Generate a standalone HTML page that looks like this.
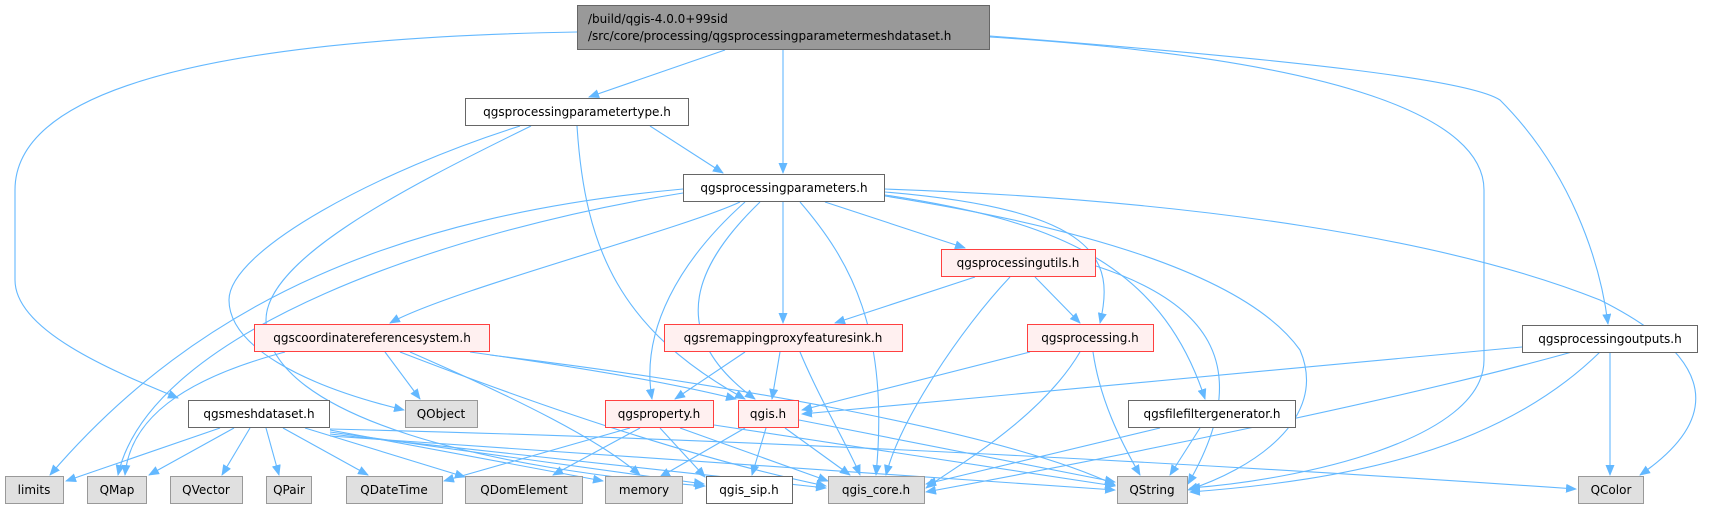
<!DOCTYPE html>
<html><head><meta charset="utf-8"><style>
html,body{margin:0;padding:0;background:#fff;}
svg{display:block;}
text{font-family:"DejaVu Sans","Liberation Sans",sans-serif;font-size:12px;fill:#000;}
</style></head><body>
<svg width="1728" height="509" viewBox="0 0 1728 509" xmlns="http://www.w3.org/2000/svg">
<defs>
<marker id="a" markerWidth="11" markerHeight="9" refX="10" refY="4.5" orient="auto" markerUnits="userSpaceOnUse">
<path d="M0,0 L11,4.5 L0,9 z" fill="#63b8ff"/>
</marker>
</defs>
<g fill="none" stroke="#63b8ff" stroke-width="1.1" marker-end="url(#a)">
<!-- root -->
<path d="M725,50 L589,97"/>
<path d="M783,50 L783,173"/>
<path d="M577,32 C250,38 15,80 15,190 L15,280 C15,330 110,370 178,398"/>
<path d="M990,37 C1350,60 1484,120 1484,190 L1484,360 C1484,440 1300,480 1190,488"/>
<path d="M990,36 C1300,60 1470,80 1500,100 C1570,170 1600,260 1608,324"/>
<!-- paramtype -->
<path d="M650,126 L723,173"/>
<path d="M520,126 C380,170 229,250 229,300 C229,345 300,385 404,410"/>
<path d="M531,126 C400,190 266,260 266,320 C266,420 500,470 705,486"/>
<path d="M577,126 C585,250 620,330 745,399"/>
<!-- params -->
<path d="M683,189 C400,215 200,300 50,475"/>
<path d="M683,193 C450,230 150,330 118,475"/>
<path d="M740,202 C680,230 450,290 390,323"/>
<path d="M745,202 C680,260 640,330 652,399"/>
<path d="M760,202 C700,260 660,330 755,399"/>
<path d="M783,202 L783,323"/>
<path d="M800,202 C850,260 890,330 876,475"/>
<path d="M825,202 L965,248"/>
<path d="M885,192 C1100,210 1115,260 1100,323"/>
<path d="M885,195 C1050,220 1160,260 1205,399"/>
<path d="M885,196 C1100,230 1250,280 1300,350 C1330,420 1250,470 1188,490"/>
<path d="M885,189 C1200,200 1450,240 1600,300 C1720,360 1720,420 1640,475"/>
<!-- utils -->
<path d="M975,277 L835,323"/>
<path d="M1035,277 L1080,323"/>
<path d="M1010,277 C960,330 900,420 886,475"/>
<path d="M1096,266 C1200,300 1260,360 1188,484"/>
<!-- crs -->
<path d="M285,352 C180,380 130,420 125,475"/>
<path d="M385,352 L420,399"/>
<path d="M470,352 C600,370 680,385 736,399"/>
<path d="M400,352 C550,410 700,460 826,486"/>
<path d="M490,355 C700,380 1000,430 1115,485"/>
<path d="M410,352 C520,400 600,440 640,475"/>
<!-- remap -->
<path d="M745,352 L675,399"/>
<path d="M780,352 L772,399"/>
<path d="M800,352 C820,400 850,450 860,475"/>
<!-- processing -->
<path d="M1030,352 L802,410"/>
<path d="M1080,352 C1040,420 950,470 926,488"/>
<path d="M1093,352 C1100,400 1120,440 1140,475"/>
<!-- outputs -->
<path d="M1522,347 L802,414"/>
<path d="M1572,352 C1400,400 1100,460 926,492"/>
<path d="M1600,352 C1500,450 1350,480 1190,492"/>
<path d="M1610,352 L1610,475"/>
<!-- mesh -->
<path d="M220,428 L66,481"/>
<path d="M234,428 L149,475"/>
<path d="M250,428 L222,475"/>
<path d="M266,428 L279,475"/>
<path d="M283,428 L368,475"/>
<path d="M305,428 L465,477"/>
<path d="M330,430 L603,481"/>
<path d="M330,432 L704,484"/>
<path d="M330,434 L826,488"/>
<path d="M330,436 L1115,490"/>
<path d="M330,429 C800,440 1300,470 1576,489"/>
<!-- property -->
<path d="M630,428 L444,481"/>
<path d="M640,428 L553,475"/>
<path d="M660,428 L705,477"/>
<path d="M680,428 L828,481"/>
<path d="M714,425 L1115,486"/>
<!-- qgis -->
<path d="M745,428 L660,477"/>
<path d="M766,428 L752,475"/>
<path d="M785,428 L850,475"/>
<path d="M799,420 L1115,482"/>
<!-- filefilter -->
<path d="M1160,428 L926,484"/>
<path d="M1200,428 L1170,475"/>
</g>
<g stroke-width="1">
<rect x="577.5" y="5.5" width="412" height="44" fill="#999999" stroke="#666666"/>
<rect x="465.5" y="98.5" width="223" height="27" fill="#fff" stroke="#666666"/>
<rect x="683.5" y="174.5" width="201" height="27" fill="#fff" stroke="#666666"/>
<rect x="941.5" y="249.5" width="154" height="27" fill="#fff0f0" stroke="#ff4040"/>
<rect x="254.5" y="324.5" width="235" height="27" fill="#fff0f0" stroke="#ff4040"/>
<rect x="664.5" y="324.5" width="238" height="27" fill="#fff0f0" stroke="#ff4040"/>
<rect x="1027.5" y="324.5" width="126" height="27" fill="#fff0f0" stroke="#ff4040"/>
<rect x="1522.5" y="325.5" width="175" height="27" fill="#fff" stroke="#666666"/>
<rect x="188.5" y="400.5" width="141" height="27" fill="#fff" stroke="#666666"/>
<rect x="405.5" y="400.5" width="72" height="27" fill="#e0e0e0" stroke="#999999"/>
<rect x="605.5" y="400.5" width="108" height="27" fill="#fff0f0" stroke="#ff4040"/>
<rect x="738.5" y="400.5" width="60" height="27" fill="#fff0f0" stroke="#ff4040"/>
<rect x="1128.5" y="400.5" width="167" height="27" fill="#fff" stroke="#666666"/>
<rect x="5.5" y="476.5" width="58" height="27" fill="#e0e0e0" stroke="#999999"/>
<rect x="87.5" y="476.5" width="59" height="27" fill="#e0e0e0" stroke="#999999"/>
<rect x="170.5" y="476.5" width="72" height="27" fill="#e0e0e0" stroke="#999999"/>
<rect x="266.5" y="476.5" width="45" height="27" fill="#e0e0e0" stroke="#999999"/>
<rect x="346.5" y="476.5" width="96" height="27" fill="#e0e0e0" stroke="#999999"/>
<rect x="465.5" y="476.5" width="117" height="27" fill="#e0e0e0" stroke="#999999"/>
<rect x="605.5" y="476.5" width="77" height="27" fill="#e0e0e0" stroke="#999999"/>
<rect x="706.5" y="476.5" width="86" height="27" fill="#fff" stroke="#666666"/>
<rect x="828.5" y="476.5" width="96" height="27" fill="#e0e0e0" stroke="#999999"/>
<rect x="1117.5" y="476.5" width="70" height="27" fill="#e0e0e0" stroke="#999999"/>
<rect x="1578.5" y="476.5" width="65" height="27" fill="#e0e0e0" stroke="#999999"/>
</g>
<g text-anchor="middle">
<text x="588" y="23" text-anchor="start">/build/qgis-4.0.0+99sid</text>
<text x="588" y="40" text-anchor="start">/src/core/processing/qgsprocessingparametermeshdataset.h</text>
<text x="577" y="116">qgsprocessingparametertype.h</text>
<text x="784" y="192">qgsprocessingparameters.h</text>
<text x="1018" y="267">qgsprocessingutils.h</text>
<text x="372" y="342">qgscoordinatereferencesystem.h</text>
<text x="783" y="342">qgsremappingproxyfeaturesink.h</text>
<text x="1090" y="342">qgsprocessing.h</text>
<text x="1610" y="343">qgsprocessingoutputs.h</text>
<text x="259" y="418">qgsmeshdataset.h</text>
<text x="441" y="418">QObject</text>
<text x="659" y="418">qgsproperty.h</text>
<text x="768" y="418">qgis.h</text>
<text x="1212" y="418">qgsfilefiltergenerator.h</text>
<text x="34" y="494">limits</text>
<text x="117" y="494">QMap</text>
<text x="206" y="494">QVector</text>
<text x="289" y="494">QPair</text>
<text x="394" y="494">QDateTime</text>
<text x="524" y="494">QDomElement</text>
<text x="644" y="494">memory</text>
<text x="749" y="494">qgis_sip.h</text>
<text x="876" y="494">qgis_core.h</text>
<text x="1152" y="494">QString</text>
<text x="1611" y="494">QColor</text>
</g>
</svg>
</body></html>
